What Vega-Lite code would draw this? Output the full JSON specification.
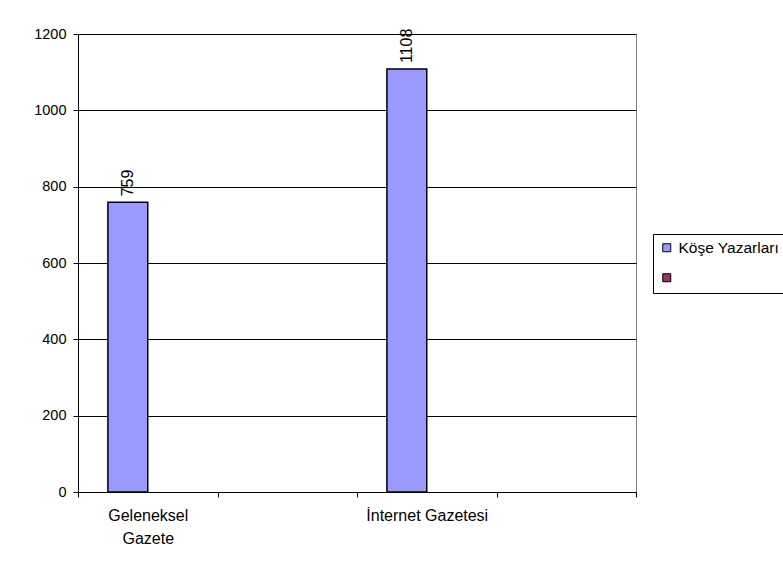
{
  "$schema": "https://vega.github.io/schema/vega-lite/v6.json",
  "width": 558,
  "height": 458,
  "autosize": {"type": "none"},
  "padding": {"left": 78, "top": 34, "right": 147, "bottom": 79},
  "background": "white",
  "config": {
    "font": "Liberation Sans",
    "view": {"stroke": "#808080", "strokeWidth": 1},
    "axis": {
      "labelFont": "Liberation Sans",
      "labelColor": "black",
      "domainColor": "black",
      "tickColor": "black",
      "gridColor": "black",
      "gridOpacity": 1,
      "tickSize": 5,
      "title": null
    }
  },
  "data": {
    "values": [
      {"category": "Geleneksel Gazete", "series": "Köşe Yazarları", "value": 759},
      {"category": "Geleneksel Gazete", "series": "", "value": null},
      {"category": " ", "series": "Köşe Yazarları", "value": null},
      {"category": " ", "series": "", "value": null},
      {"category": "İnternet Gazetesi", "series": "Köşe Yazarları", "value": 1108},
      {"category": "İnternet Gazetesi", "series": "", "value": null},
      {"category": "  ", "series": "Köşe Yazarları", "value": null},
      {"category": "  ", "series": "", "value": null}
    ]
  },
  "encoding": {
    "x": {
      "field": "category",
      "type": "nominal",
      "sort": null,
      "scale": {"domain": ["Geleneksel Gazete", " ", "İnternet Gazetesi", "  "], "paddingInner": 0, "paddingOuter": 0},
      "axis": {
        "labelAngle": 0,
        "tickBand": "extent",
        "grid": false,
        "labelFontSize": 16,
        "labelPadding": 10,
        "labelLineHeight": 23,
        "labelBaseline": "top",
        "labelExpr": "datum.label == 'Geleneksel Gazete' ? ['Geleneksel', 'Gazete'] : datum.label"
      }
    },
    "xOffset": {
      "field": "series",
      "type": "nominal",
      "scale": {"domain": ["Köşe Yazarları", ""], "paddingInner": 0, "paddingOuter": 0.75}
    },
    "y": {
      "field": "value",
      "type": "quantitative",
      "scale": {"domain": [0, 1200], "nice": false},
      "axis": {"values": [0, 200, 400, 600, 800, 1000, 1200], "format": "d", "grid": true, "labelFontSize": 14.5, "labelPadding": 7}
    }
  },
  "layer": [
    {
      "mark": {"type": "bar", "stroke": "black", "strokeWidth": 1.5},
      "encoding": {
        "color": {
          "field": "series",
          "type": "nominal",
          "scale": {"domain": ["Köşe Yazarları", ""], "range": ["#9999FF", "#993366"]},
          "legend": {
            "orient": "none",
            "legendX": 575,
            "legendY": 200,
            "title": null,
            "strokeColor": "black",
            "fillColor": "white",
            "padding": 6,
            "symbolType": "square",
            "symbolSize": 64,
            "symbolStrokeColor": "black",
            "symbolStrokeWidth": 1,
            "symbolOpacity": 1,
            "labelFontSize": 15.5,
            "labelColor": "black",
            "labelOffset": 4,
            "rowPadding": 13
          }
        }
      }
    },
    {
      "transform": [{"filter": "datum.value != null"}],
      "mark": {"type": "text", "angle": 270, "align": "left", "baseline": "middle", "dx": 6, "fontSize": 16, "color": "black"},
      "encoding": {"text": {"field": "value", "type": "quantitative", "format": "d"}}
    }
  ]
}
